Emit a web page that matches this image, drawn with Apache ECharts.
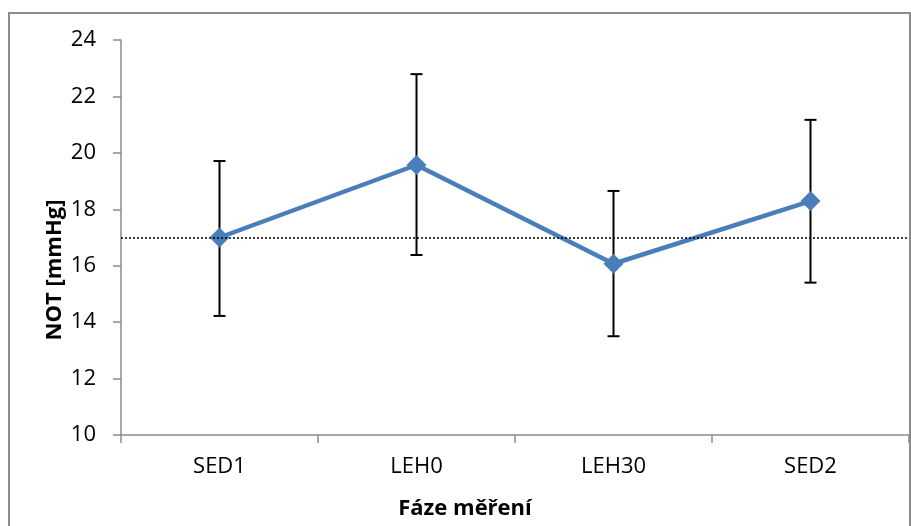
<!DOCTYPE html>
<html><head><meta charset="utf-8">
<script src="https://cdn.jsdelivr.net/npm/echarts@6/dist/echarts.min.js"></script>
<style>html,body{margin:0;padding:0;background:#fff}#c{width:911px;height:526px}</style>
</head><body><div id="c"></div>
<script>
const categories = ['SED1', 'LEH0', 'LEH30', 'SED2'];
const means = [17.0, 19.57, 16.07, 18.29];
const errHigh = [19.71, 22.79, 18.65, 21.17];
const errLow = [14.22, 16.38, 13.5, 15.4];
const refValue = 17.0;
const yTicks = { min: 10, max: 24, interval: 2 };
const yTitle = 'NOT [mmHg]';
const xTitle = 'Fáze měření';

const FONT = '"Open Sans", Lato, sans-serif';
const chart = echarts.init(document.getElementById('c'), null, { renderer: 'canvas' });
const errData = categories.map((c, i) => [i, errLow[i], errHigh[i]]);

chart.setOption({
  animation: false,
  backgroundColor: '#fff',
  grid: { left: 121, right: 2, top: 40, bottom: 91, containLabel: false },
  graphic: [
    { type: 'rect', shape: { x: 9, y: 13, width: 901, height: 530 }, style: { fill: 'none', stroke: '#8c8c8c', lineWidth: 2 }, z: -1 },
    { type: 'text', x: 55, y: 270, rotation: Math.PI / 2, style: { text: yTitle, font: 'bold 22px ' + FONT, fill: '#000', align: 'center', verticalAlign: 'middle' } },
    { type: 'text', x: 465, y: 509, style: { text: xTitle, font: 'bold 22px ' + FONT, fill: '#000', align: 'center', verticalAlign: 'middle' } }
  ],
  xAxis: {
    type: 'category', data: categories, boundaryGap: true,
    axisLine: { lineStyle: { color: '#8c8c8c', width: 1.5 } },
    axisTick: { show: true, alignWithLabel: false, length: 8, lineStyle: { color: '#8c8c8c', width: 1.5 } },
    axisLabel: { color: '#000', fontSize: 22, fontFamily: FONT, margin: 21 },
    splitLine: { show: false }
  },
  yAxis: {
    type: 'value', min: yTicks.min, max: yTicks.max, interval: yTicks.interval,
    axisLine: { show: true, lineStyle: { color: '#8c8c8c', width: 1.5 } },
    axisTick: { show: true, length: 8, lineStyle: { color: '#8c8c8c', width: 1.5 } },
    axisLabel: { color: '#000', fontSize: 22, fontFamily: FONT, margin: 25 },
    splitLine: { show: false }
  },
  series: [
    {
      type: 'custom', z: 3,
      data: errData,
      renderItem: function (params, api) {
        const x = api.value(0);
        const lo = api.coord([x, api.value(1)]);
        const hi = api.coord([x, api.value(2)]);
        const w = 6;
        const st = { stroke: '#000', lineWidth: 2 };
        return { type: 'group', children: [
          { type: 'line', shape: { x1: lo[0], y1: lo[1], x2: hi[0], y2: hi[1] }, style: st },
          { type: 'line', shape: { x1: lo[0] - w, y1: lo[1], x2: lo[0] + w, y2: lo[1] }, style: st },
          { type: 'line', shape: { x1: hi[0] - w, y1: hi[1], x2: hi[0] + w, y2: hi[1] }, style: st }
        ] };
      }
    },
    {
      type: 'line', z: 4, data: means,
      symbol: 'diamond', symbolSize: 20,
      lineStyle: { color: '#4a7ebb', width: 4.5 },
      itemStyle: { color: '#4a7ebb' },
      markLine: {
        silent: true, symbol: 'none', label: { show: false },
        lineStyle: { color: '#000', type: [2, 2], width: 1.5 },
        data: [{ yAxis: refValue }]
      }
    }
  ]
});
</script></body></html>
